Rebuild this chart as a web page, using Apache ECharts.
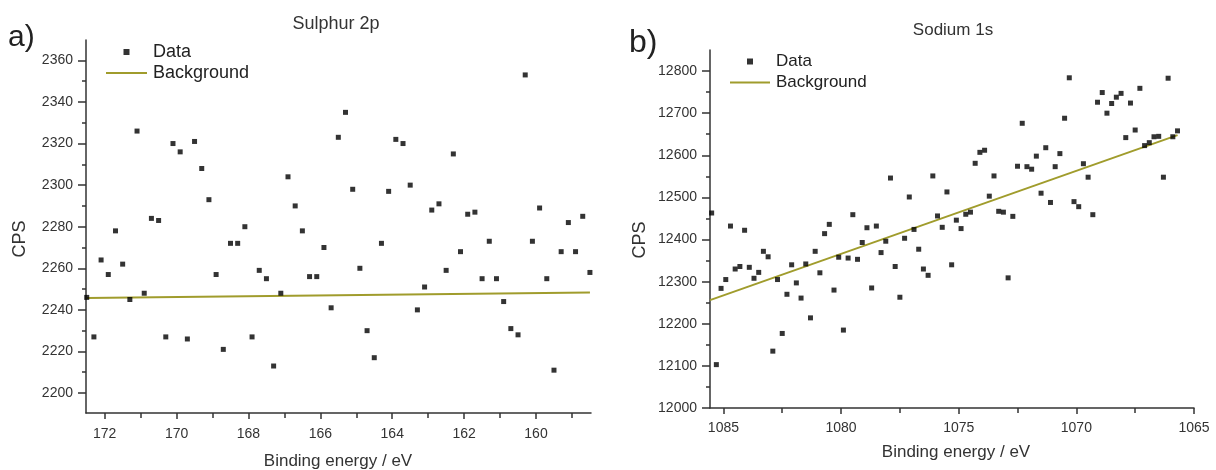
<!DOCTYPE html>
<html>
<head>
<meta charset="utf-8">
<script src="https://cdn.jsdelivr.net/npm/echarts@6/dist/echarts.min.js"></script>
<style>html,body{margin:0;padding:0;background:#fff;}#chart{width:1216px;height:470px;}</style>
</head>
<body>
<div id="chart"></div>
<script>
// ---- Panel a) Sulphur 2p ----
const sulphurEnergy = [172.5,172.3,172.1,171.9,171.7,171.5,171.3,171.1,170.9,170.7,170.5,170.3,170.1,169.9,169.7,169.5,169.3,169.1,168.9,168.7,168.5,168.3,168.1,167.9,167.7,167.5,167.3,167.1,166.9,166.7,166.5,166.3,166.1,165.9,165.7,165.5,165.3,165.1,164.9,164.7,164.5,164.3,164.1,163.9,163.7,163.5,163.3,163.1,162.9,162.7,162.5,162.3,162.1,161.9,161.7,161.5,161.3,161.1,160.9,160.7,160.5,160.3,160.1,159.9,159.7,159.5,159.3,159.1,158.9,158.7,158.5];
const sulphurCps = [2246,2227,2264,2257,2278,2262,2245,2326,2248,2284,2283,2227,2320,2316,2226,2321,2308,2293,2257,2221,2272,2272,2280,2227,2259,2255,2213,2248,2304,2290,2278,2256,2256,2270,2241,2323,2335,2298,2260,2230,2217,2272,2297,2322,2320,2300,2240,2251,2288,2291,2259,2315,2268,2286,2287,2255,2273,2255,2244,2231,2228,2353,2273,2289,2255,2211,2268,2282,2268,2285,2258];
const sulphurBgEnergy = [172.5, 158.5];
const sulphurBg = [2245.7, 2248.3];
const sulphurXTicks = [160,162,164,166,168,170,172];
const sulphurXMinor = [159,161,163,165,167,169,171];
const sulphurYTicks = [2200,2220,2240,2260,2280,2300,2320,2340,2360];
const sulphurYMinor = [2210,2230,2250,2270,2290,2310,2330,2350];

// ---- Panel b) Sodium 1s ----
const sodiumEnergy = [1085.5,1085.3,1085.1,1084.9,1084.7,1084.5,1084.3,1084.1,1083.9,1083.7,1083.5,1083.3,1083.1,1082.9,1082.7,1082.5,1082.3,1082.1,1081.9,1081.7,1081.5,1081.3,1081.1,1080.9,1080.7,1080.5,1080.3,1080.1,1079.9,1079.7,1079.5,1079.3,1079.1,1078.9,1078.7,1078.5,1078.3,1078.1,1077.9,1077.7,1077.5,1077.3,1077.1,1076.9,1076.7,1076.5,1076.3,1076.1,1075.9,1075.7,1075.5,1075.3,1075.1,1074.9,1074.7,1074.5,1074.3,1074.1,1073.9,1073.7,1073.5,1073.3,1073.1,1072.9,1072.7,1072.5,1072.3,1072.1,1071.9,1071.7,1071.5,1071.3,1071.1,1070.9,1070.7,1070.5,1070.3,1070.1,1069.9,1069.7,1069.5,1069.3,1069.1,1068.9,1068.7,1068.5,1068.3,1068.1,1067.9,1067.7,1067.5,1067.3,1067.1,1066.9,1066.7,1066.5,1066.3,1066.1,1065.9,1065.7];
const sodiumCps = [12463,12103,12284,12305,12432,12330,12336,12422,12334,12308,12322,12372,12359,12135,12305,12177,12270,12340,12297,12261,12342,12214,12372,12321,12414,12436,12280,12358,12185,12356,12459,12353,12393,12428,12285,12432,12369,12396,12546,12336,12263,12403,12501,12424,12377,12330,12315,12551,12456,12429,12513,12340,12446,12426,12460,12465,12581,12607,12612,12503,12551,12467,12465,12309,12455,12574,12676,12573,12567,12598,12510,12618,12488,12573,12604,12688,12784,12490,12478,12580,12548,12459,12726,12749,12700,12723,12738,12747,12642,12724,12660,12759,12623,12630,12644,12645,12548,12783,12644,12658];
const sodiumBgEnergy = [1085.57, 1065.7];
const sodiumBg = [12256, 12648];
const sodiumXTicks = [1065,1070,1075,1080,1085];
const sodiumXMinor = [1067.5,1072.5,1077.5,1082.5];
const sodiumYTicks = [12000,12100,12200,12300,12400,12500,12600,12700,12800];
const sodiumYMinor = [12050,12150,12250,12350,12450,12550,12650,12750];

const FONT = 'Liberation Sans, Arial, sans-serif';
const AXC = '#333';
const BG_COLOR = '#a09c2c';
const plain = v => String(v);

function zipPts(xs, ys){ return xs.map((x,i)=>[x, ys[i]]); }

function mainX(grid, min, max, ticks, margin){
  return {
    type:'value', gridIndex:grid, inverse:true, min:min, max:max, position:'bottom',
    axisLine:{show:true, lineStyle:{color:AXC, width:1.5}},
    axisTick:{show:true, inside:false, length:6, customValues:ticks, lineStyle:{color:AXC, width:1.5}},
    axisLabel:{show:true, customValues:ticks, formatter:plain, margin:margin, color:AXC, fontSize:14, fontFamily:FONT},
    splitLine:{show:false}
  };
}
function minorX(grid, min, max, ticks){
  return {
    type:'value', gridIndex:grid, inverse:true, min:min, max:max, position:'bottom',
    axisLine:{show:false},
    axisTick:{show:true, length:5, customValues:ticks, lineStyle:{color:AXC, width:1.5}},
    axisLabel:{show:false}, splitLine:{show:false}
  };
}
function mainY(grid, min, max, ticks){
  return {
    type:'value', gridIndex:grid, min:min, max:max, position:'left',
    axisLine:{show:true, lineStyle:{color:AXC, width:1.5}},
    axisTick:{show:true, length:8, customValues:ticks, lineStyle:{color:AXC, width:1.5}},
    axisLabel:{show:true, customValues:ticks, formatter:plain, margin:13, color:AXC, fontSize:14, fontFamily:FONT},
    splitLine:{show:false}
  };
}
function minorY(grid, min, max, ticks){
  return {
    type:'value', gridIndex:grid, min:min, max:max, position:'left',
    axisLine:{show:false},
    axisTick:{show:true, length:4, customValues:ticks, lineStyle:{color:AXC, width:1.5}},
    axisLabel:{show:false}, splitLine:{show:false}
  };
}

const SQUARE = 'path://M0,0h10v10h-10z';
const chart = echarts.init(document.getElementById('chart'), null, {renderer:'canvas'});
chart.setOption({
  backgroundColor:'#ffffff',
  animation:false,
  title:[
    {text:'Sulphur 2p', left:336, top:15, textAlign:'center', padding:0,
     textStyle:{fontFamily:FONT, fontSize:18, fontWeight:'normal', color:'#333'}},
    {text:'Sodium 1s', left:953, top:22, textAlign:'center', padding:0,
     textStyle:{fontFamily:FONT, fontSize:17, fontWeight:'normal', color:'#333'}}
  ],
  graphic:[
    {type:'text', x:8, y:38, style:{text:'a)', font:'30px '+FONT, fill:'#222', textVerticalAlign:'middle'}},
    {type:'text', x:629, y:43, style:{text:'b)', font:'32px '+FONT, fill:'#222', textVerticalAlign:'middle'}},
    {type:'text', x:20, y:239, rotation:Math.PI/2, style:{text:'CPS', font:'18px '+FONT, fill:'#333', textAlign:'center', textVerticalAlign:'middle'}},
    {type:'text', x:640, y:240, rotation:Math.PI/2, style:{text:'CPS', font:'18px '+FONT, fill:'#333', textAlign:'center', textVerticalAlign:'middle'}},
    {type:'text', x:338, y:461, style:{text:'Binding energy / eV', font:'17px '+FONT, fill:'#333', textAlign:'center', textVerticalAlign:'middle'}},
    {type:'text', x:956, y:452, style:{text:'Binding energy / eV', font:'17px '+FONT, fill:'#333', textAlign:'center', textVerticalAlign:'middle'}}
  ],
  legend:[
    {orient:'vertical', left:106, top:43, padding:0, itemWidth:41, itemHeight:6, itemGap:3,
     textStyle:{fontFamily:FONT, fontSize:18, color:'#222', padding:[0,0,0,1]},
     data:[{name:'Data', icon:SQUARE}, {name:'Background', icon:'path://M0,0h41v2h-41z'}]},
    {orient:'vertical', left:730, top:53, padding:0, itemWidth:40, itemHeight:6, itemGap:4,
     textStyle:{fontFamily:FONT, fontSize:17, color:'#222', padding:[0,0,0,1]},
     data:[{name:'Data ', icon:SQUARE}, {name:'Background ', icon:'path://M0,0h40v2h-40z'}]}
  ],
  grid:[
    {left:86, top:40, width:505, height:373, containLabel:false},
    {left:710, top:50, width:484, height:358, containLabel:false}
  ],
  xAxis:[
    mainX(0, 158.47, 172.52, sulphurXTicks, 14),
    mainX(1, 1065, 1085.57, sodiumXTicks, 13),
    minorX(0, 158.47, 172.52, sulphurXMinor),
    minorX(1, 1065, 1085.57, sodiumXMinor)
  ],
  yAxis:[
    mainY(0, 2190.4, 2369.8, sulphurYTicks),
    mainY(1, 12000, 12850, sodiumYTicks),
    minorY(0, 2190.4, 2369.8, sulphurYMinor),
    minorY(1, 12000, 12850, sodiumYMinor)
  ],
  series:[
    {name:'Data', type:'scatter', xAxisIndex:0, yAxisIndex:0, symbol:'rect', symbolSize:5,
     itemStyle:{color:'#000'}, data:zipPts(sulphurEnergy, sulphurCps), clip:true, z:3},
    {name:'Background', type:'line', xAxisIndex:0, yAxisIndex:0, symbol:'none', showSymbol:false,
     lineStyle:{color:BG_COLOR, width:2}, itemStyle:{color:BG_COLOR}, data:zipPts(sulphurBgEnergy, sulphurBg), z:2},
    {name:'Data ', type:'scatter', xAxisIndex:1, yAxisIndex:1, symbol:'rect', symbolSize:5,
     itemStyle:{color:'#000'}, data:zipPts(sodiumEnergy, sodiumCps), clip:true, z:3},
    {name:'Background ', type:'line', xAxisIndex:1, yAxisIndex:1, symbol:'none', showSymbol:false,
     lineStyle:{color:BG_COLOR, width:2}, itemStyle:{color:BG_COLOR}, data:zipPts(sodiumBgEnergy, sodiumBg), z:2}
  ]
});
</script>
</body>
</html>
